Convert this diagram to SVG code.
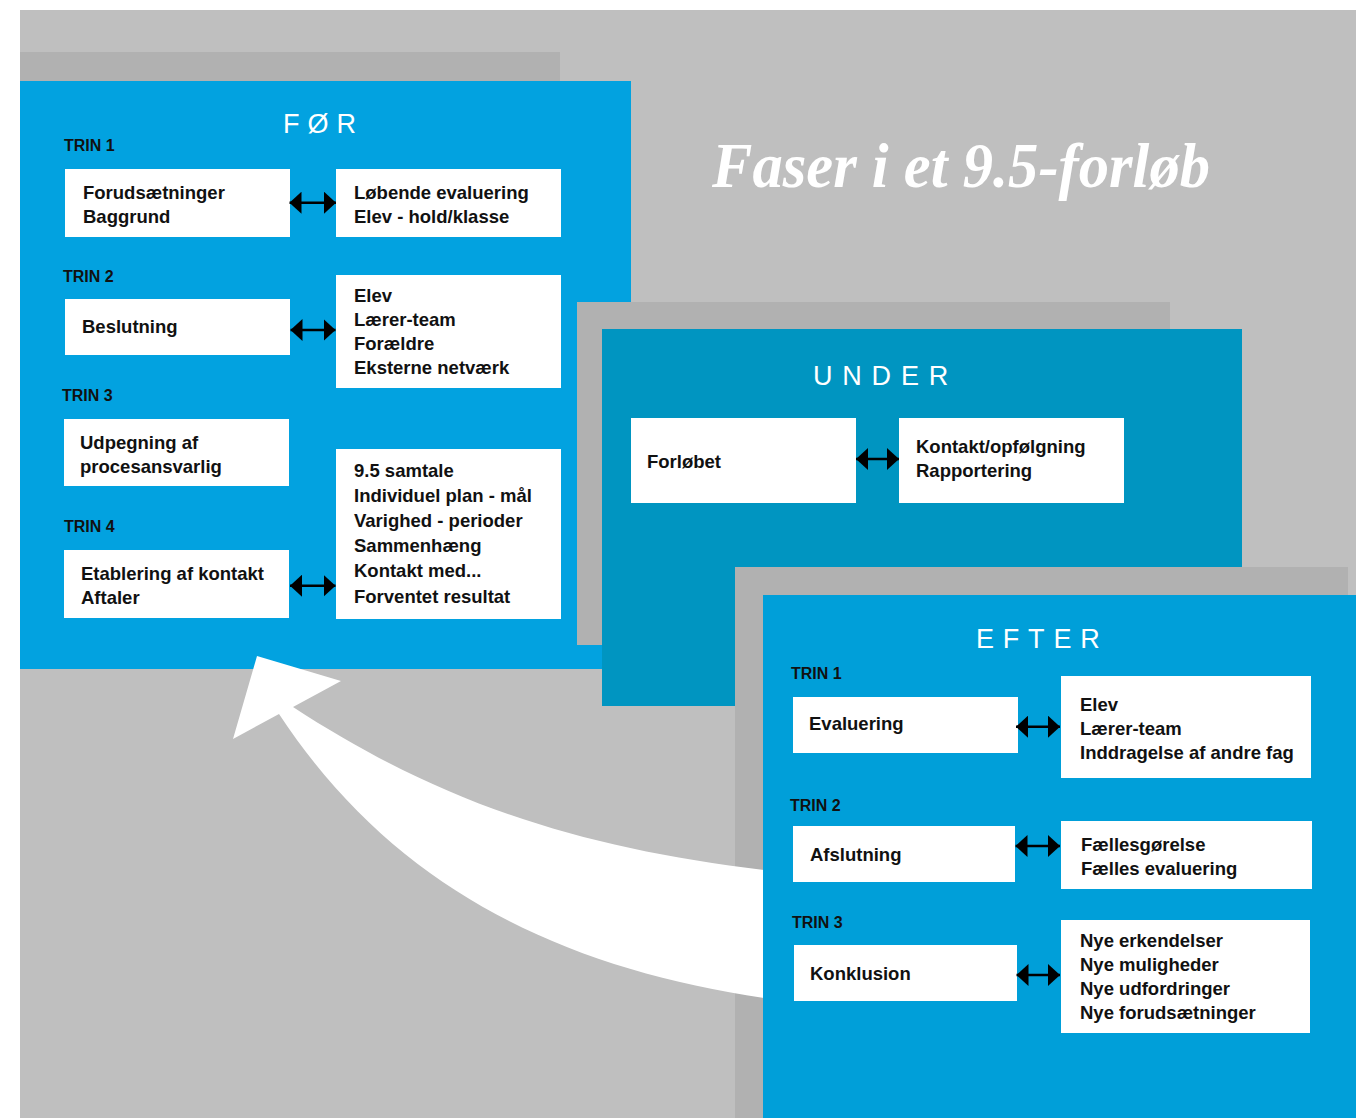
<svg xmlns="http://www.w3.org/2000/svg" width="1356" height="1118" viewBox="0 0 1356 1118">
<style>
.bg{fill:#BFBFBF}
.sh{fill:#B1B1B1}
.for{fill:#02A2E0}
.und{fill:#0095C1}
.eft{fill:#009FD9}
.box{fill:#FFFFFF}
.t{font-family:"Liberation Sans",Arial,sans-serif;font-weight:bold;font-size:18.5px;fill:#111}
.trin{font-family:"Liberation Sans",Arial,sans-serif;font-weight:bold;font-size:16px;fill:#111}
.hdr{font-family:"Liberation Sans",Arial,sans-serif;font-size:27px;fill:#FFFFFF}
.dbl{stroke:#000;stroke-width:2.5;fill:none;marker-start:url(#ah);marker-end:url(#ah)}
</style>
<defs>
<marker id="ah" viewBox="0 0 12 22" refX="12" refY="11" markerWidth="12" markerHeight="22" markerUnits="userSpaceOnUse" orient="auto-start-reverse">
<path d="M0,0 L12,11 L0,22 Z" fill="#000"/>
</marker>
</defs>
<rect x="0" y="0" width="1356" height="1118" fill="#FFFFFF"/>
<rect class="bg" x="20" y="10" width="1336" height="1108"/>
<text x="712" y="187" font-family="'Liberation Serif','Times New Roman',serif" font-weight="bold" font-style="italic" font-size="64" fill="#FFFFFF" textLength="498" lengthAdjust="spacingAndGlyphs">Faser i et 9.5-forløb</text>

<g id="panel-for">
<rect class="sh" x="20" y="52" width="540" height="588"/>
<rect class="for" x="20" y="81" width="611" height="588"/>
<text class="hdr" x="283" y="133" letter-spacing="8">FØR</text>
<text class="trin" x="64" y="151">TRIN 1</text>
<text class="trin" x="63" y="282">TRIN 2</text>
<text class="trin" x="62" y="401">TRIN 3</text>
<text class="trin" x="64" y="532">TRIN 4</text>
</g>
<g id="for-forudsaetninger">
<rect class="box" x="65" y="169" width="225" height="68"/>
<text class="t" x="83" y="199">Forudsætninger</text>
<text class="t" x="83" y="223">Baggrund</text>
</g>
<g id="for-loebende">
<rect class="box" x="336" y="169" width="225" height="68"/>
<text class="t" x="354" y="198.5">Løbende evaluering</text>
<text class="t" x="354" y="222.5">Elev - hold/klasse</text>
</g>
<g id="for-beslutning">
<rect class="box" x="65" y="299" width="225" height="56"/>
<text class="t" x="82" y="333">Beslutning</text>
</g>
<g id="for-elev">
<rect class="box" x="336" y="275" width="225" height="113"/>
<text class="t" x="354" y="301.5">Elev</text>
<text class="t" x="354" y="325.5">Lærer-team</text>
<text class="t" x="354" y="349.5">Forældre</text>
<text class="t" x="354" y="373.5">Eksterne netværk</text>
</g>
<g id="for-udpegning">
<rect class="box" x="64" y="419" width="225" height="67"/>
<text class="t" x="80" y="448.5">Udpegning af</text>
<text class="t" x="80" y="472.5">procesansvarlig</text>
</g>
<g id="for-etablering">
<rect class="box" x="64" y="550" width="225" height="68"/>
<text class="t" x="81" y="579.5">Etablering af kontakt</text>
<text class="t" x="81" y="603.5">Aftaler</text>
</g>
<g id="for-samtale">
<rect class="box" x="336" y="449" width="225" height="170"/>
<text class="t" x="354" y="477">9.5 samtale</text>
<text class="t" x="354" y="502">Individuel plan - mål</text>
<text class="t" x="354" y="527">Varighed - perioder</text>
<text class="t" x="354" y="552">Sammenhæng</text>
<text class="t" x="354" y="577">Kontakt med...</text>
<text class="t" x="354" y="602.5">Forventet resultat</text>
</g>

<g id="panel-under">
<rect class="sh" x="577" y="302" width="593" height="343"/>
<rect class="und" x="602" y="329" width="640" height="377"/>
<text class="hdr" x="813" y="385" letter-spacing="9.8">UNDER</text>
</g>
<g id="under-forloebet">
<rect class="box" x="631" y="418" width="225" height="85"/>
<text class="t" x="647" y="467.5">Forløbet</text>
</g>
<g id="under-kontakt">
<rect class="box" x="899" y="418" width="225" height="85"/>
<text class="t" x="916" y="452.5">Kontakt/opfølgning</text>
<text class="t" x="916" y="476.5">Rapportering</text>
</g>

<g id="panel-efter-shadow">
<rect class="sh" x="735" y="567" width="613" height="551"/>
</g>

<g id="return-arrow">
<path fill="#FFFFFF" d="M 764,870 C 583,848.4 443,805 293,707 L 341,681 L 257,656 L 233,739 L 279,714 C 395,890 563,968 764,998 Z"/>
</g>

<g id="panel-efter">
<rect class="eft" x="763" y="595" width="593" height="523"/>
<text class="hdr" x="976" y="648" letter-spacing="8.8">EFTER</text>
<text class="trin" x="791" y="679">TRIN 1</text>
<text class="trin" x="790" y="811">TRIN 2</text>
<text class="trin" x="792" y="928">TRIN 3</text>
</g>
<g id="efter-evaluering">
<rect class="box" x="793" y="697" width="225" height="56"/>
<text class="t" x="809" y="729.5">Evaluering</text>
</g>
<g id="efter-elev">
<rect class="box" x="1061" y="676" width="250" height="102"/>
<text class="t" x="1080" y="710.5">Elev</text>
<text class="t" x="1080" y="734.5">Lærer-team</text>
<text class="t" x="1080" y="758.5">Inddragelse af andre fag</text>
</g>
<g id="efter-afslutning">
<rect class="box" x="793" y="826" width="222" height="56"/>
<text class="t" x="810" y="860.5">Afslutning</text>
</g>
<g id="efter-faelles">
<rect class="box" x="1061" y="821" width="251" height="68"/>
<text class="t" x="1081" y="850.5">Fællesgørelse</text>
<text class="t" x="1081" y="874.5">Fælles evaluering</text>
</g>
<g id="efter-konklusion">
<rect class="box" x="794" y="945" width="223" height="56"/>
<text class="t" x="810" y="979.5">Konklusion</text>
</g>
<g id="efter-nye">
<rect class="box" x="1061" y="920" width="249" height="113"/>
<text class="t" x="1080" y="946.5">Nye erkendelser</text>
<text class="t" x="1080" y="970.5">Nye muligheder</text>
<text class="t" x="1080" y="994.5">Nye udfordringer</text>
<text class="t" x="1080" y="1018.5">Nye forudsætninger</text>
</g>

<g id="connectors">
<line class="dbl" x1="289.5" y1="202.7" x2="336" y2="202.7"/>
<line class="dbl" x1="290.5" y1="330" x2="335.5" y2="330"/>
<line class="dbl" x1="290" y1="585.7" x2="335.5" y2="585.7"/>
<line class="dbl" x1="856" y1="459" x2="899" y2="459"/>
<line class="dbl" x1="1016" y1="726.7" x2="1060" y2="726.7"/>
<line class="dbl" x1="1015.5" y1="846" x2="1060" y2="846"/>
<line class="dbl" x1="1016.5" y1="975" x2="1060" y2="975"/>
</g>
</svg>
